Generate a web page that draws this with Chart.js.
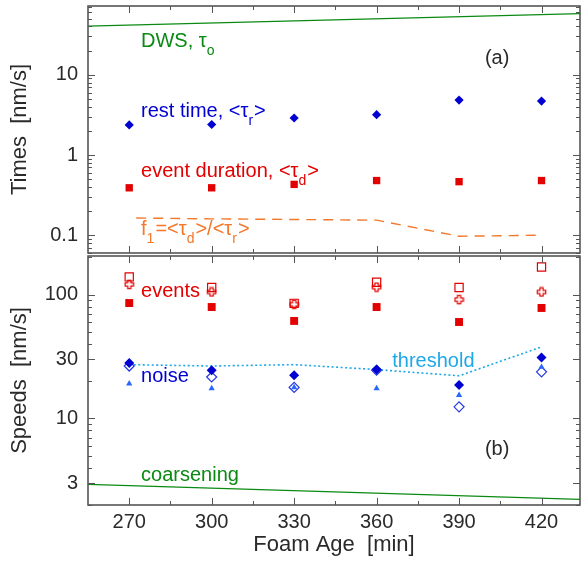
<!DOCTYPE html>
<html><head><meta charset="utf-8">
<script src="https://cdn.jsdelivr.net/npm/chart.js@4.4.0/dist/chart.umd.min.js"></script>
<style>
html,body{margin:0;padding:0;background:#fff;}
#wrap{position:relative;width:581px;height:561px;overflow:hidden;}
.box{position:absolute;left:0;}
</style></head><body>
<div id="wrap">
<div class="box" style="top:0;width:581px;height:262px"><canvas id="ca" width="581" height="262"></canvas></div>
<div class="box" style="top:250px;width:581px;height:311px"><canvas id="cb" width="581" height="311"></canvas></div>
</div>
<script>
// ---------- data ----------
const ages = [270, 300, 330, 360, 390, 420];
// panel (a): times
const restTime      = [2.37, 2.40, 2.89, 3.18, 4.84, 4.70];
const eventDuration = [0.39, 0.39, 0.43, 0.48, 0.465, 0.48];
const f1Ratio       = [0.164, 0.160, 0.157, 0.154, 0.097, 0.100];
const dwsAges = [255, 434];
const dwsTau  = [40.5, 58];
// panel (b): speeds
const eventsFilled = [85.5, 79.4, 61.3, 79.4, 60.1, 78.0];
const eventsOpen   = [139, 114, 85, 126, 114, 167];
const eventsCross  = [121, 105, 83.5, 115, 91, 105];
const noiseFilled  = [28, 24.5, 22.3, 24.8, 18.6, 31];
const noiseOpen    = [26.5, 21.6, 17.8, 24.5, 12.4, 23.8];
const noiseTri     = [19.1, 17.5, 17.8, 17.5, 15.4, 26];
const threshold    = [27.2, 26.5, 27.2, 24.8, 22.1, 37.8];
const coarsenAges  = [255, 434];
const coarsening   = [2.94, 2.22];
// axes
const xMin = 255, xMax = 434;
const xMajor = [270, 300, 330, 360, 390, 420];
const xMinor = [285, 315, 345, 375, 405];
const xTickLabels = ['270', '300', '330', '360', '390', '420'];
const topTicks = [0.1, 1, 10];
const topTickLabels = ['0.1', '1', '10'];
const botTicks = [3, 10, 30, 100];
const botTickLabels = ['3', '10', '30', '100'];

// ---------- styling ----------
const FONT = '"Liberation Sans", Arial, Helvetica, sans-serif';
const GREEN = '#0a8a12', BLUE = '#0000d2', RED = '#e20000', ORANGE = '#f3782a',
      SKY = '#1ea8e8', TRI = '#2a66ff', DIAO = '#2438e0', AXIS = '#555', TXT = '#2a2a2a';

function pts(xs, ys) { return xs.map((x, i) => ({x, y: ys[i]})); }

function crossImg(color) {
  const c = document.createElement('canvas');
  c.width = 11; c.height = 11;
  const g = c.getContext('2d');
  const a = 1.6, L = 4.2, o = 5.5;
  const P = [[-a,-L],[a,-L],[a,-a],[L,-a],[L,a],[a,a],[a,L],[-a,L],[-a,a],[-L,a],[-L,-a],[-a,-a]];
  g.beginPath();
  P.forEach((p, i) => i ? g.lineTo(o + p[0], o + p[1]) : g.moveTo(o + p[0], o + p[1]));
  g.closePath();
  g.strokeStyle = color; g.lineWidth = 1.2; g.stroke();
  return c;
}

function minorLog(min, max, majors) {
  const out = [];
  for (let d = Math.floor(Math.log10(min)); d <= Math.ceil(Math.log10(max)); d++) {
    for (let m = 1; m <= 9; m++) {
      const v = m * Math.pow(10, d);
      if (v >= min && v <= max && !majors.some(t => Math.abs(t - v) / v < 1e-6)) out.push(v);
    }
  }
  return out;
}

const framePlugin = {
  id: 'frame',
  afterDraw(chart) {
    const {ctx, chartArea: a, scales} = chart;
    const xs = scales.x, ys = scales.y;
    const o = chart.options.plugins.frame;
    ctx.save();
    ctx.strokeStyle = AXIS; ctx.lineWidth = 1;
    ctx.beginPath();
    const vline = (p, y0, y1) => { p = Math.round(p) + 0.5; ctx.moveTo(p, y0); ctx.lineTo(p, y1); };
    const hline = (p, x0, x1) => { p = Math.round(p) + 0.5; ctx.moveTo(x0, p); ctx.lineTo(x1, p); };
    xMajor.forEach(v => { const p = xs.getPixelForValue(v); vline(p, a.top, a.top + 7); vline(p, a.bottom, a.bottom - 7); });
    xMinor.forEach(v => { const p = xs.getPixelForValue(v); vline(p, a.top, a.top + 4); vline(p, a.bottom, a.bottom - 4); });
    o.major.forEach(v => { const p = ys.getPixelForValue(v); hline(p, a.left, a.left + 7); hline(p, a.right, a.right - 7); });
    minorLog(o.min, o.max, o.major).forEach(v => { const p = ys.getPixelForValue(v); hline(p, a.left, a.left + 4); hline(p, a.right, a.right - 4); });
    ctx.stroke();
    ctx.lineWidth = 1.6;
    ctx.strokeRect(a.left, a.top, a.right - a.left, a.bottom - a.top);
    // text labels
    o.labels.forEach(lb => {
      let x = xs.getPixelForValue(lb.x);
      const y = ys.getPixelForValue(lb.y);
      ctx.fillStyle = lb.color;
      ctx.textBaseline = 'alphabetic'; ctx.textAlign = 'left';
      lb.parts.forEach(pt => {
        const sub = typeof pt !== 'string';
        const t = sub ? pt.sub : pt;
        ctx.font = (sub ? '14px ' : '20px ') + FONT;
        ctx.fillText(t, x, sub ? y + 8 : y);
        x += ctx.measureText(t).width + (sub ? 1 : 0);
      });
    });
    ctx.restore();
  }
};

function makeOptions(cfg) {
  return {
    responsive: false, animation: false, events: [],
    layout: {padding: cfg.padding, autoPadding: false},
    plugins: {legend: {display: false}, tooltip: {enabled: false}, frame: cfg.frame},
    scales: {
      x: {
        type: 'linear', min: xMin, max: xMax, display: cfg.showX,
        grid: {display: false, drawTicks: false}, border: {display: false},
        afterBuildTicks: s => { s.ticks = xMajor.map(v => ({value: v})); },
        afterFit: s => { if (cfg.showX) s.height = 56; s.paddingLeft = 0; s.paddingRight = 0; },
        ticks: {font: {family: FONT, size: 20}, color: TXT, padding: 5, maxRotation: 0,
                callback: (v, i) => xTickLabels[i]},
        title: {display: cfg.showX, text: 'Foam Age  [min]', color: TXT,
                font: {family: FONT, size: 22}, padding: {top: 0, bottom: 3}}
      },
      y: {
        type: 'logarithmic', min: cfg.yMin, max: cfg.yMax,
        grid: {display: false, drawTicks: false}, border: {display: false},
        afterBuildTicks: s => { s.ticks = cfg.yTicks.map(v => ({value: v})); },
        afterFit: s => { s.width = 88; s.paddingTop = 0; s.paddingBottom = 0; },
        ticks: {font: {family: FONT, size: 20}, color: TXT, padding: 10,
                callback: (v, i) => cfg.yTickLabels[i]},
        title: {display: true, text: cfg.yTitle, color: TXT,
                font: {family: FONT, size: 22}, padding: {top: 7, bottom: 0}}
      }
    }
  };
}

// ---------- panel (a) ----------
new Chart(document.getElementById('ca'), {
  type: 'scatter',
  data: {datasets: [
    {data: pts(ages, restTime), pointStyle: 'rectRot', pointRadius: 4.6, backgroundColor: BLUE, borderColor: BLUE, borderWidth: 0},
    {data: pts(ages, eventDuration), pointStyle: 'rect', pointRadius: 5.2, backgroundColor: RED, borderColor: RED, borderWidth: 0},
    {data: pts(ages, f1Ratio), showLine: true, pointRadius: 0, borderColor: ORANGE, borderWidth: 1.4, borderDash: [10, 7], borderDashOffset: 10},
    {data: pts(dwsAges, dwsTau), showLine: true, pointRadius: 0, borderColor: GREEN, borderWidth: 1.3}
  ]},
  options: makeOptions({
    padding: {top: 6, right: 1, bottom: 9, left: 0}, showX: false,
    yMin: 0.06, yMax: 72, yTicks: topTicks, yTickLabels: topTickLabels, yTitle: 'Times  [nm/s]',
    frame: {min: 0.06, max: 72, major: topTicks, labels: [
      {x: 274.3, y: 22.3, color: GREEN, parts: ['DWS, τ', {sub: 'o'}]},
      {x: 399.4, y: 13.6, color: TXT, parts: ['(a)']},
      {x: 274.3, y: 3.0, color: BLUE, parts: ['rest time, <τ', {sub: 'r'}, '>']},
      {x: 274.3, y: 0.526, color: RED, parts: ['event duration, <τ', {sub: 'd'}, '>']},
      {x: 274.3, y: 0.1, color: ORANGE, parts: ['f', {sub: '1'}, '=<τ', {sub: 'd'}, '>/<τ', {sub: 'r'}, '>']}
    ]}
  }),
  plugins: [framePlugin]
});

// ---------- panel (b) ----------
new Chart(document.getElementById('cb'), {
  type: 'scatter',
  data: {datasets: [
    {data: pts(ages, noiseFilled), pointStyle: 'rectRot', pointRadius: 5, backgroundColor: BLUE, borderColor: BLUE, borderWidth: 0},
    {data: pts(ages, noiseTri), pointStyle: 'triangle', pointRadius: 3.6, backgroundColor: TRI, borderColor: TRI, borderWidth: 0},
    {data: pts(ages, noiseOpen), pointStyle: 'rectRot', pointRadius: 5, backgroundColor: 'rgba(255,255,255,0)', borderColor: DIAO, borderWidth: 1.2},
    {data: pts(ages, eventsFilled), pointStyle: 'rect', pointRadius: 5.6, backgroundColor: RED, borderColor: RED, borderWidth: 0},
    {data: pts(ages, eventsCross), pointStyle: crossImg(RED), pointRadius: 5},
    {data: pts(ages, eventsOpen), pointStyle: 'rect', pointRadius: 5.8, backgroundColor: 'rgba(255,255,255,0)', borderColor: RED, borderWidth: 1.2},
    {data: pts(ages, threshold), showLine: true, pointRadius: 0, borderColor: SKY, borderWidth: 1.6, borderDash: [2, 2.5]},
    {data: pts(coarsenAges, coarsening), showLine: true, pointRadius: 0, borderColor: GREEN, borderWidth: 1.3}
  ]},
  options: makeOptions({
    padding: {top: 6, right: 1, bottom: 0, left: 0}, showX: true,
    yMin: 2, yMax: 205, yTicks: botTicks, yTickLabels: botTickLabels, yTitle: 'Speeds  [nm/s]',
    frame: {min: 2, max: 205, major: botTicks, labels: [
      {x: 274.3, y: 95.7, color: RED, parts: ['events']},
      {x: 274.3, y: 19.7, color: BLUE, parts: ['noise']},
      {x: 365.7, y: 25.8, color: SKY, parts: ['threshold']},
      {x: 399.4, y: 5.06, color: TXT, parts: ['(b)']},
      {x: 274.3, y: 3.12, color: GREEN, parts: ['coarsening']}
    ]}
  }),
  plugins: [framePlugin]
});
</script>
</body></html>
